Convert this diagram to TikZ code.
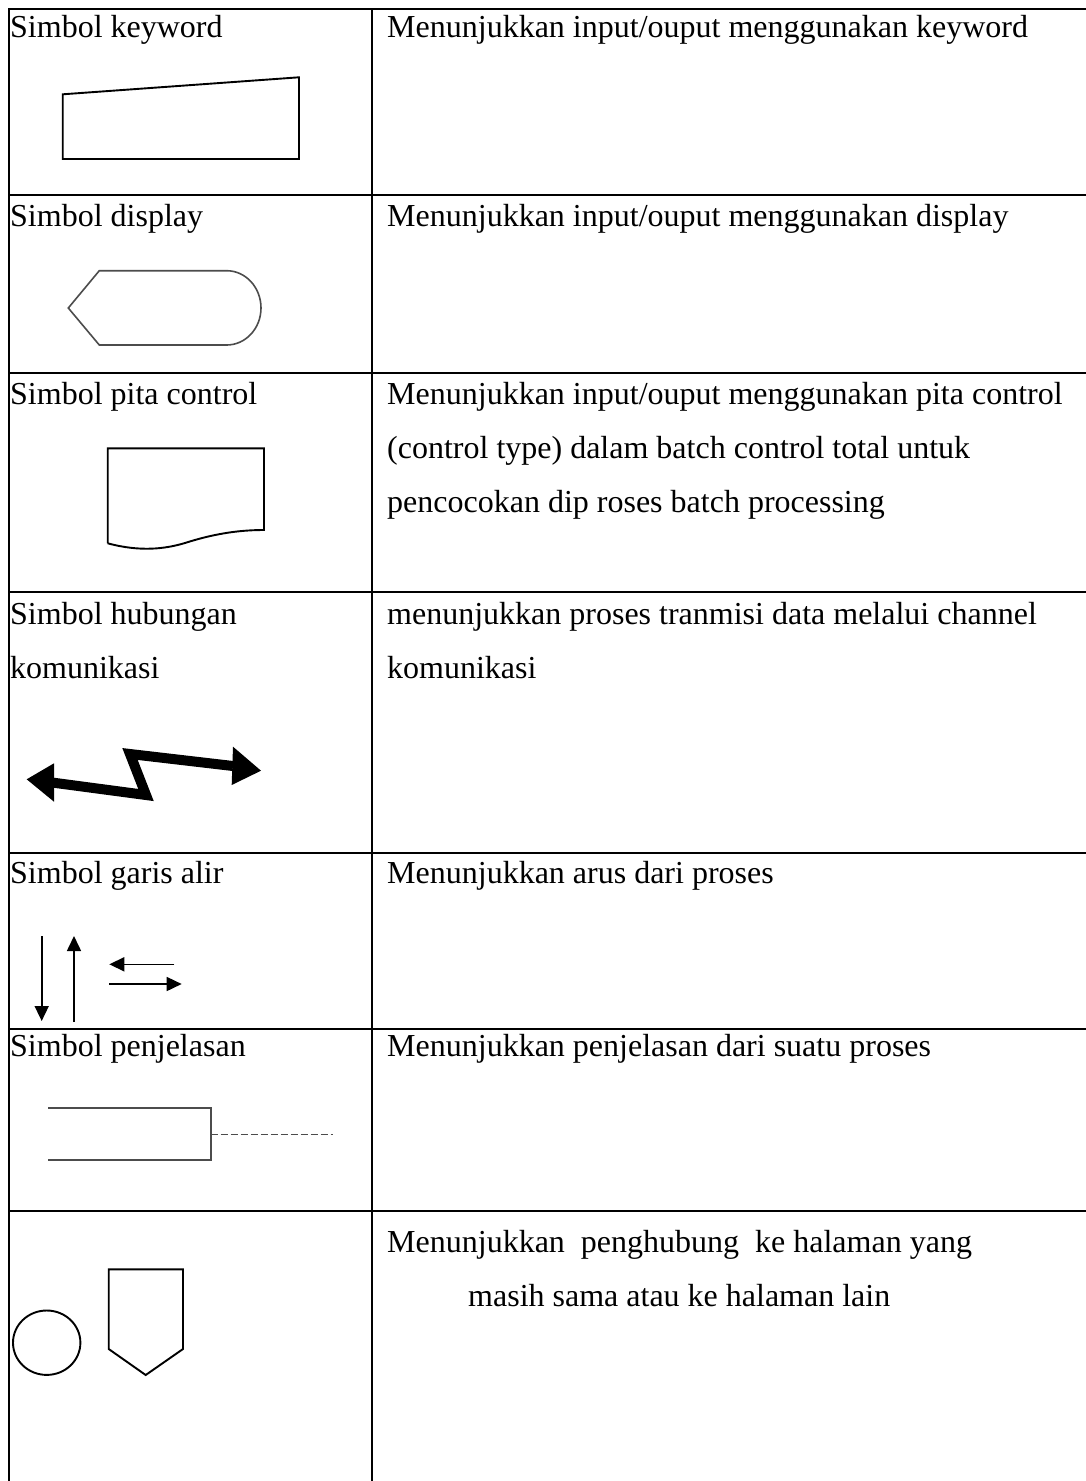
\documentclass[tikz,border=0pt]{standalone}
\usepackage{fontspec}
\setmainfont{Liberation Serif}
\usetikzlibrary{arrows.meta}
\begin{document}
\begin{tikzpicture}[x=1pt,y=-1pt,
  gridline/.style={line width=2.9pt,line cap=rect},
  txt/.style={anchor=base west,inner sep=0pt,font=\fontsize{32}{38}\selectfont},
  symb/.style={line width=1.9pt,line join=miter},
  greysymb/.style={line width=1.6pt,draw=black!70,line join=miter},
  flow/.style={line width=1.6pt,-{Triangle[length=15pt,width=14pt]}},
  commlink/.style={line width=10pt,line join=miter}]
\useasboundingbox (0,0) rectangle (1085,1481);
\fill[white] (0,0) rectangle (1085,1481);

% table grid
\foreach \yy in {9,195,373,592,853,1029,1211}
  \draw[gridline] (9,\yy) -- (1090,\yy);
\draw[gridline] (9,9) -- (9,1490);
\draw[gridline] (372,9) -- (372,1490);

% texts
\node[txt] (l1) at (10,37) {Simbol keyword};
\node[txt] (r1) at (387,37) {Menunjukkan input/ouput menggunakan keyword};
\node[txt] (l2) at (10,226) {Simbol display};
\node[txt] (r2) at (387,226) {Menunjukkan input/ouput menggunakan display};
\node[txt] (l3) at (10,404) {Simbol pita control};
\node[txt] (r3a) at (387,404) {Menunjukkan input/ouput menggunakan pita control};
\node[txt] (r3b) at (387,458) {(control type) dalam batch control total untuk};
\node[txt] (r3c) at (387,512) {pencocokan dip roses batch processing};
\node[txt] (l4a) at (10,624) {Simbol hubungan};
\node[txt] (l4b) at (10,678) {komunikasi};
\node[txt] (r4a) at (387,624) {menunjukkan proses tranmisi data melalui channel};
\node[txt] (r4b) at (387,678) {komunikasi};
\node[txt] (l5) at (10,883) {Simbol garis alir};
\node[txt] (r5) at (387,883) {Menunjukkan arus dari proses};
\node[txt] (l6) at (10,1056) {Simbol penjelasan};
\node[txt] (r6) at (387,1056) {Menunjukkan penjelasan dari suatu proses};
\node[txt] (r7a) at (387,1252) {Menunjukkan~ penghubung~ ke halaman yang};
\node[txt] (r7b) at (468,1306) {masih sama atau ke halaman lain};

% keyword symbol
\draw[symb] (62.7,94.3) -- (299,77.3) -- (299,159) -- (62.7,159) -- cycle;

% display symbol
\draw[greysymb] (68.3,308) -- (99.3,270.7) -- (226.7,270.7)
  .. controls (245.6,270.7) and (261,287.4) .. (261,308)
  .. controls (261,328.4) and (245.6,345) .. (226.7,345)
  -- (99.3,345) -- cycle;

% pita control symbol
\draw[symb] (107.7,543.3) -- (107.7,448.3) -- (264,448.3) -- (264,530)
  .. controls (235,530) and (210,535) .. (185,543)
  .. controls (165,549) and (140,552) .. (107.7,543.3);

% communication link
\draw[commlink] (52,782.5) -- (146,795) -- (130,754) -- (233,766);
\fill (26.7,779.3) -- (54,763.3) -- (54,801.7) -- cycle;
\fill (261,770.7) -- (233,746.7) -- (231.7,785) -- cycle;

% flow lines
\draw[flow] (41.7,936) -- (41.7,1021);
\draw[flow] (74,1022) -- (74,936);
\draw[flow] (174.3,964.3) -- (109.3,964.3);
\draw[flow] (109.3,984) -- (181.7,984);

% annotation symbol
\draw[greysymb] (48.3,1107.7) -- (210.7,1107.7) -- (210.7,1160) -- (48.3,1160);
\draw[greysymb,line width=1.2pt,dash pattern=on 7pt off 3pt] (210.7,1134.3) -- (333.3,1134.3);

% connectors
\draw[symb] (46.7,1342.7) ellipse [x radius=33.7pt, y radius=32.2pt];
\draw[symb] (108.7,1269.3) -- (183,1269.3) -- (183,1349) -- (145.7,1375) -- (108.7,1349) -- cycle;
\end{tikzpicture}
\end{document}
